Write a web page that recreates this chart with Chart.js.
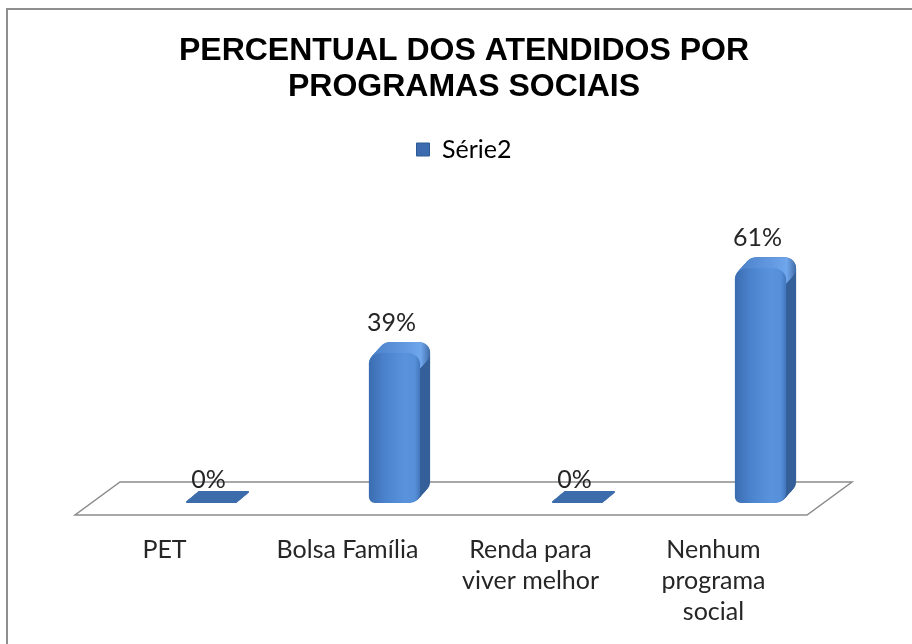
<!DOCTYPE html>
<html>
<head>
<meta charset="utf-8">
<script src="https://cdn.jsdelivr.net/npm/chart.js@4"></script>
<style>
  html, body { margin: 0; padding: 0; background: #fff; overflow: hidden; }
  #frame { position: absolute; left: 6px; top: 8px; width: 940px; height: 700px; border-top: 2px solid #8e8e8e; border-left: 2px solid #8e8e8e; }
  #myChart { position: absolute; left: 8px; top: 10px; }
</style>
</head>
<body>
<div id="frame"></div>
<canvas id="myChart" width="912" height="665"></canvas>
<script>
var titleLines = ['PERCENTUAL DOS ATENDIDOS POR', 'PROGRAMAS SOCIAIS']
var categories = [['PET'], ['Bolsa Família'], ['Renda para', 'viver melhor'], ['Nenhum', 'programa', 'social']]
var seriesName = 'Série2'
var serie2 = [0, 0.39, 0, 0.61]

var textColor = '#262626'
var depthX = 10, depthY = -11

// floor plane, bar side/top faces and flat discs for the 0% bars
var bar3d = {
  id: 'bar3d',
  beforeDatasetsDraw(chart) {
    var ctx = chart.ctx, area = chart.chartArea
    var base = chart.scales.y.getPixelForValue(0)
    var back = base - 21, front = base + 12, shift = 45
    ctx.save()
    ctx.beginPath()
    ctx.moveTo(area.left, back)
    ctx.lineTo(area.right, back)
    ctx.lineTo(area.right - shift, front)
    ctx.lineTo(area.left - shift, front)
    ctx.closePath()
    ctx.fillStyle = '#fff'
    ctx.fill()
    ctx.strokeStyle = '#8c8c8c'
    ctx.lineWidth = 1.5
    ctx.stroke()

    chart.getDatasetMeta(0).data.forEach(function (bar, i) {
      var w = bar.width, x = bar.x - w / 2
      var k, t
      if (serie2[i] === 0) {
        ctx.fillStyle = '#3d6dab'
        for (k = 0; k <= 14; k++) {
          t = k / 14
          ctx.beginPath()
          ctx.roundRect(x + 12 * t, base - 2 - 10 * t, w, 2, 1)
          ctx.fill()
        }
        return
      }
      var top = bar.y, h = bar.base - bar.y
      ctx.fillStyle = '#345f98'
      for (k = 1; k <= 14; k++) {
        t = k / 14
        ctx.beginPath()
        ctx.roundRect(x + depthX * t, top + depthY * t, w, h, [12, 12, 10, 10])
        ctx.fill()
      }
      var g = ctx.createLinearGradient(x, 0, x + w + depthX, 0)
      g.addColorStop(0, '#4a80c8')
      g.addColorStop(0.6, '#6299e0')
      g.addColorStop(0.85, '#6fa6ec')
      g.addColorStop(1, '#3f6aa6')
      ctx.fillStyle = g
      for (k = 0; k <= 14; k++) {
        t = k / 14
        ctx.beginPath()
        ctx.roundRect(x + depthX * t, top + depthY * t, w, 22, 11)
        ctx.fill()
      }
    })
    ctx.restore()
  },
  afterDatasetsDraw(chart) {
    var ctx = chart.ctx
    ctx.save()
    ctx.font = '25px Lato'
    ctx.fillStyle = textColor
    ctx.textAlign = 'center'
    ctx.textBaseline = 'middle'
    chart.getDatasetMeta(0).data.forEach(function (bar, i) {
      var v = serie2[i]
      ctx.fillText(Math.round(v * 100) + '%', bar.x - 3, bar.y - (v > 0 ? 30 : 23))
    })
    ctx.restore()
  }
}

function frontGradient(c) {
  var chart = c.chart, xs = chart.scales.x
  if (!xs || !chart.chartArea || c.dataIndex === undefined) return '#4a80c8'
  var cx = xs.getPixelForValue(c.dataIndex)
  var half = xs.width / categories.length * 0.28 / 2
  var g = chart.ctx.createLinearGradient(cx - half, 0, cx + half, 0)
  g.addColorStop(0, '#3b6cb0')
  g.addColorStop(0.3, '#4b82cc')
  g.addColorStop(0.7, '#5a93dc')
  g.addColorStop(0.9, '#5690d8')
  g.addColorStop(1, '#4275bc')
  return g
}

var ctx = document.getElementById('myChart').getContext('2d')
var chart = new Chart(ctx, {
  type: 'bar',
  data: {
    labels: categories,
    datasets: [{
      label: seriesName,
      data: serie2,
      backgroundColor: frontGradient,
      borderWidth: 0,
      borderSkipped: false,
      borderRadius: { topLeft: 12, topRight: 12, bottomLeft: 6, bottomRight: 10 },
      barPercentage: 0.28,
      categoryPercentage: 1
    }]
  },
  options: {
    responsive: false,
    animation: false,
    layout: { padding: { bottom: 17 } },
    plugins: {
      title: {
        display: true,
        text: titleLines,
        color: '#000',
        font: { family: 'Liberation Sans', size: 32, weight: 'bold', lineHeight: 36 / 32 },
        padding: { top: 23, bottom: 22 }
      },
      legend: {
        display: true,
        position: 'top',
        labels: {
          color: textColor,
          font: { family: 'Lato', size: 25 },
          boxWidth: 13,
          boxHeight: 13,
          padding: 10,
          generateLabels: function () {
            return [{ text: seriesName, fillStyle: '#3c6caf', strokeStyle: '#2d5a94', lineWidth: 1, hidden: false, datasetIndex: 0 }]
          }
        }
      },
      tooltip: { enabled: false }
    },
    scales: {
      x: {
        grid: { display: false, drawTicks: false },
        border: { display: false },
        ticks: {
          color: textColor,
          font: { family: 'Lato', size: 25, lineHeight: 31 / 25 },
          padding: 31,
          labelOffset: -47,
          maxRotation: 0,
          autoSkip: false
        }
      },
      y: {
        min: 0,
        max: 0.86,
        grid: { display: false, drawTicks: false },
        border: { display: false },
        ticks: { display: false },
        afterFit: function (s) { s.width = 112 }
      },
      yRight: {
        type: 'linear',
        position: 'right',
        grid: { display: false, drawTicks: false },
        border: { display: false },
        ticks: { display: false },
        afterFit: function (s) { s.width = 68 }
      }
    }
  },
  plugins: [bar3d]
})
</script>
</body>
</html>
